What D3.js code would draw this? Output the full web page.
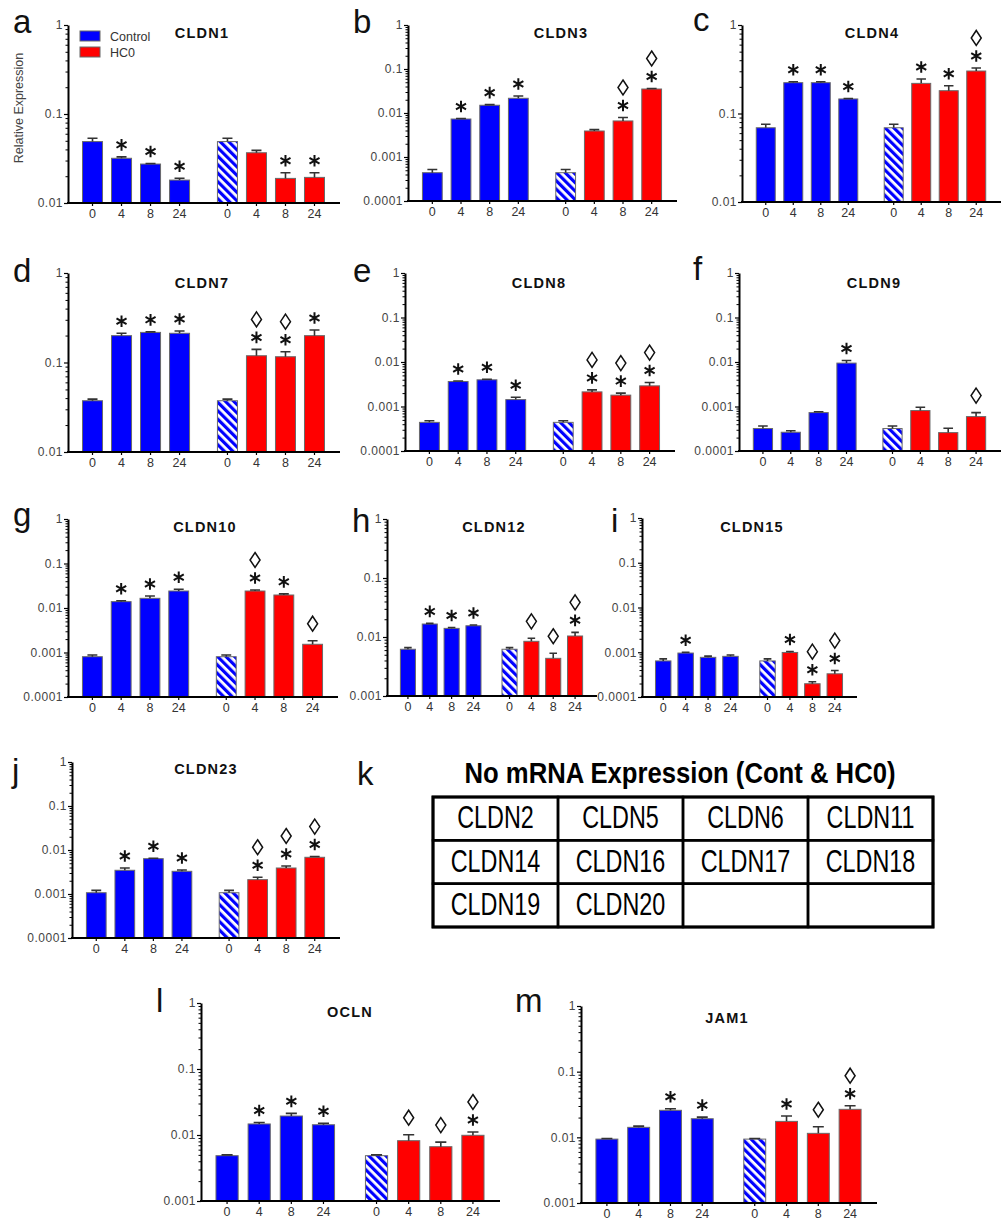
<!DOCTYPE html>
<html><head><meta charset="utf-8">
<script src="https://cdn.jsdelivr.net/npm/d3@7"></script>
<style>
body{margin:0;background:#fff}
svg{display:block}
text{font-family:"Liberation Sans",Arial,Helvetica,sans-serif}
</style>
</head><body>
<svg id="chart" width="1003" height="1226"></svg>
<script>
// ---------------- DATA ----------------
const timepoints = ["0", "4", "8", "24"];
const groups = ["Control", "HC0"];
const yTickLabels = ["0.0001", "0.001", "0.01", "0.1", "1"];

// order of each array: Control 0,4,8,24 then HC0 0,4,8,24
const cldn1Mean  = [0.049, 0.0318, 0.0274, 0.0181, 0.049, 0.0367, 0.0189, 0.0194];
const cldn1Sem   = [0.0043, 0.0012, 0.0004, 0.0009, 0.0043, 0.0023, 0.003, 0.0025];
const cldn1Sig   = ["", "*", "*", "*", "", "", "*", "*"];

const cldn3Mean  = [4.4e-4, 7.3e-3, 0.015, 0.0216, 4.4e-4, 3.9e-3, 6.6e-3, 0.0351];
const cldn3Sem   = [0.8e-4, 0.2e-3, 0.5e-3, 2.7e-3, 0.8e-4, 0.3e-3, 1.3e-3, 0.9e-3];
const cldn3Sig   = ["", "*", "*", "*", "", "", "*◊", "*◊"];

const cldn4Mean  = [0.069, 0.223, 0.223, 0.146, 0.069, 0.219, 0.181, 0.302];
const cldn4Sem   = [0.0065, 0.005, 0.005, 0.002, 0.0065, 0.026, 0.025, 0.025];
const cldn4Sig   = ["", "*", "*", "*", "", "*", "*", "*◊"];

const cldn7Mean  = [0.0374, 0.1995, 0.217, 0.212, 0.0374, 0.119, 0.116, 0.1995];
const cldn7Sem   = [0.0016, 0.0125, 0.003, 0.013, 0.0016, 0.021, 0.016, 0.0315];
const cldn7Sig   = ["", "*", "*", "*", "", "*◊", "*◊", "*"];

const cldn8Mean  = [4.4e-4, 3.64e-3, 3.98e-3, 1.43e-3, 4.4e-4, 2.13e-3, 1.8e-3, 2.91e-3];
const cldn8Sem   = [0.4e-4, 0.11e-3, 0.12e-3, 0.19e-3, 0.4e-4, 0.23e-3, 0.2e-3, 0.54e-3];
const cldn8Sig   = ["", "*", "*", "*", "", "*◊", "*◊", "*◊"];

const cldn9Mean  = [3.2e-4, 2.64e-4, 7.3e-4, 9.45e-3, 3.2e-4, 8.1e-4, 2.59e-4, 5.93e-4];
const cldn9Sem   = [0.45e-4, 0.22e-4, 0.3e-4, 1.35e-3, 0.45e-4, 1.5e-4, 0.66e-4, 1.37e-4];
const cldn9Sig   = ["", "", "", "*", "", "", "", "◊"];

const cldn10Mean = [8.05e-4, 0.0139, 0.0165, 0.0241, 8.05e-4, 0.0241, 0.0196, 1.53e-3];
const cldn10Sem  = [0.75e-4, 0.6e-3, 2.1e-3, 2.3e-3, 0.75e-4, 1.3e-3, 1.2e-3, 0.31e-3];
const cldn10Sig  = ["", "*", "*", "*", "", "*◊", "*", "◊"];

const cldn12Mean = [6.2e-3, 0.0166, 0.014, 0.0155, 6.2e-3, 8.45e-3, 4.35e-3, 0.0104];
const cldn12Sem  = [0.4e-3, 0.4e-3, 0.5e-3, 0.5e-3, 0.4e-3, 1.05e-3, 0.95e-3, 1.6e-3];
const cldn12Sig  = ["", "*", "*", "*", "", "◊", "◊", "*◊"];

const cldn15Mean = [6.4e-4, 9.6e-4, 7.7e-4, 8.1e-4, 6.4e-4, 9.9e-4, 1.98e-4, 3.3e-4];
const cldn15Sem  = [0.7e-4, 0.4e-4, 0.5e-4, 0.6e-4, 0.7e-4, 0.5e-4, 0.22e-4, 0.6e-4];
const cldn15Sig  = ["", "*", "", "", "", "*", "*◊", "*◊"];

const cldn23Mean = [1.07e-3, 3.46e-3, 6.35e-3, 3.28e-3, 1.07e-3, 2.12e-3, 3.9e-3, 6.83e-3];
const cldn23Sem  = [0.14e-3, 0.44e-3, 0.15e-3, 0.22e-3, 0.14e-3, 0.28e-3, 0.43e-3, 0.27e-3];
const cldn23Sig  = ["", "*", "*", "*", "", "*◊", "*◊", "*◊"];

const oclnMean   = [4.86e-3, 0.0147, 0.0194, 0.0143, 4.86e-3, 8.2e-3, 6.65e-3, 9.9e-3];
const oclnSem    = [0.14e-3, 0.8e-3, 1.9e-3, 0.8e-3, 0.14e-3, 1.9e-3, 1.15e-3, 1.2e-3];
const oclnSig    = ["", "*", "*", "*", "", "◊", "◊", "*◊"];

const jam1Mean   = [9.4e-3, 0.0142, 0.0258, 0.0192, 9.4e-3, 0.0175, 0.0115, 0.0267];
const jam1Sem    = [0.2e-3, 0.6e-3, 1.5e-3, 1.1e-3, 0.2e-3, 3.6e-3, 3.0e-3, 3.6e-3];
const jam1Sig    = ["", "", "*", "*", "", "*", "◊", "*◊"];

const noExpressionGenes = ["CLDN2", "CLDN5", "CLDN6", "CLDN11", "CLDN14", "CLDN16", "CLDN17", "CLDN18", "CLDN19", "CLDN20"];

// ---------------- LAYOUT ----------------
const panels = [
  {id:"a", gene:"CLDN1",  mean:cldn1Mean,  sem:cldn1Sem,  sig:cldn1Sig,  min:1e-2, x0:68,  x1:340,  top:25,   bottom:203,  lx:13,  ly:33,   tx:202, ty:38},
  {id:"b", gene:"CLDN3",  mean:cldn3Mean,  sem:cldn3Sem,  sig:cldn3Sig,  min:1e-4, x0:408, x1:677,  top:25,   bottom:201,  lx:353, ly:33,   tx:561, ty:38},
  {id:"c", gene:"CLDN4",  mean:cldn4Mean,  sem:cldn4Sem,  sig:cldn4Sig,  min:1e-2, x0:742, x1:1001, top:25,   bottom:202,  lx:693, ly:31,   tx:872, ty:38},
  {id:"d", gene:"CLDN7",  mean:cldn7Mean,  sem:cldn7Sem,  sig:cldn7Sig,  min:1e-2, x0:68,  x1:340,  top:273,  bottom:452,  lx:13,  ly:282,  tx:202, ty:288},
  {id:"e", gene:"CLDN8",  mean:cldn8Mean,  sem:cldn8Sem,  sig:cldn8Sig,  min:1e-4, x0:405, x1:675,  top:273,  bottom:451,  lx:353, ly:282,  tx:539, ty:288},
  {id:"f", gene:"CLDN9",  mean:cldn9Mean,  sem:cldn9Sem,  sig:cldn9Sig,  min:1e-4, x0:739, x1:1001, top:273,  bottom:451,  lx:693, ly:280,  tx:874, ty:288},
  {id:"g", gene:"CLDN10", mean:cldn10Mean, sem:cldn10Sem, sig:cldn10Sig, min:1e-4, x0:68,  x1:338,  top:519,  bottom:697,  lx:13,  ly:526,  tx:205, ty:532},
  {id:"h", gene:"CLDN12", mean:cldn12Mean, sem:cldn12Sem, sig:cldn12Sig, min:1e-3, x0:387, x1:597,  top:519,  bottom:696,  lx:352, ly:532,  tx:494, ty:532},
  {id:"i", gene:"CLDN15", mean:cldn15Mean, sem:cldn15Sem, sig:cldn15Sig, min:1e-4, x0:642, x1:857,  top:518,  bottom:697,  lx:611, ly:532,  tx:752, ty:532},
  {id:"j", gene:"CLDN23", mean:cldn23Mean, sem:cldn23Sem, sig:cldn23Sig, min:1e-4, x0:72,  x1:340,  top:762,  bottom:938,  lx:12,  ly:782,  tx:206, ty:774},
  {id:"l", gene:"OCLN",   mean:oclnMean,   sem:oclnSem,   sig:oclnSig,   min:1e-3, x0:201, x1:500,  top:1003, bottom:1201, lx:156, ly:1012, tx:350, ty:1017},
  {id:"m", gene:"JAM1",   mean:jam1Mean,   sem:jam1Sem,   sig:jam1Sig,   min:1e-3, x0:581, x1:877,  top:1006, bottom:1203, lx:515, ly:1012, tx:727, ty:1023}
];

const BLUE = "#0000ff", RED = "#ff0000";

const svg = d3.select("#chart");
const defs = svg.append("defs");
const pat = defs.append("pattern").attr("id", "hatch")
  .attr("patternUnits", "userSpaceOnUse").attr("width", 6).attr("height", 6)
  .attr("patternTransform", "rotate(-45)");
pat.append("rect").attr("width", 6).attr("height", 6).attr("fill", "#fff");
pat.append("rect").attr("width", 3.2).attr("height", 6).attr("fill", BLUE);

function starPath(cx, cy, r) {
  const s = Math.sin(Math.PI / 3) * r, c = Math.cos(Math.PI / 3) * r;
  return `M${cx},${cy - r}L${cx},${cy + r}M${cx - s},${cy - c}L${cx + s},${cy + c}M${cx - s},${cy + c}L${cx + s},${cy - c}`;
}
function diamondPath(cx, cy) {
  return `M${cx},${cy - 7.5}L${cx + 5},${cy}L${cx},${cy + 7.5}L${cx - 5},${cy}Z`;
}

function drawPanel(p) {
  const g = svg.append("g").attr("class", "panel-" + p.id);
  const y = d3.scaleLog().domain([p.min, 1]).range([p.bottom, p.top]);
  const outer = d3.scaleBand().domain(groups).range([p.x0 + 10, p.x1 - 11]).paddingInner(0.14);
  const inner = d3.scaleBand().domain(timepoints).range([0, outer.bandwidth()])
    .paddingInner(0.31).paddingOuter(0.155);

  const bars = p.mean.map((v, i) => ({
    group: groups[Math.floor(i / 4)], time: timepoints[i % 4], v, e: p.sem[i], sig: p.sig[i]
  }));
  const xl = d => outer(d.group) + inner(d.time);
  const xc = d => xl(d) + inner.bandwidth() / 2;

  g.selectAll("rect.bar").data(bars).join("rect").attr("class", "bar")
    .attr("x", xl).attr("width", inner.bandwidth())
    .attr("y", d => y(d.v)).attr("height", d => p.bottom - y(d.v))
    .attr("fill", d => d.group === "Control" ? BLUE : (d.time === "0" ? "url(#hatch)" : RED))
    .attr("stroke", "#6a6a6a").attr("stroke-width", 1);

  // error bars
  const cap = inner.bandwidth() * 0.25;
  g.selectAll("path.err").data(bars).join("path").attr("class", "err")
    .attr("d", d => `M${xc(d)},${y(d.v)}V${y(d.v + d.e)}M${xc(d) - cap},${y(d.v + d.e)}H${xc(d) + cap}`)
    .attr("stroke", "#333").attr("stroke-width", 1.6).attr("fill", "none");

  // significance marks
  bars.forEach(d => {
    const top = y(d.v + d.e);
    let ay = top - 12;
    if (d.sig.includes("*")) {
      g.append("path").attr("d", starPath(xc(d), ay, 5.8))
        .attr("stroke", "#111").attr("stroke-width", 2).attr("fill", "none");
    }
    if (d.sig.includes("◊")) {
      const dy = d.sig.includes("*") ? ay - 18 : top - 17;
      g.append("path").attr("d", diamondPath(xc(d), dy))
        .attr("stroke", "#111").attr("stroke-width", 1.5).attr("fill", "none");
    }
  });

  // y axis: minor then major
  const decades = d3.range(Math.round(Math.log10(p.min)), 1).map(k => Math.pow(10, k));
  const minors = [];
  decades.slice(0, -1).forEach(dv => { for (let k = 2; k <= 9; k++) minors.push(dv * k); });
  g.append("g").attr("transform", `translate(${p.x0},0)`)
    .call(d3.axisLeft(y).tickValues(minors).tickFormat("").tickSize(2.5).tickSizeOuter(0))
    .call(a => a.select(".domain").remove())
    .call(a => a.selectAll("line").attr("stroke", "#000").attr("stroke-width", 1));
  const yAx = g.append("g").attr("transform", `translate(${p.x0},0)`)
    .call(d3.axisLeft(y).tickValues(decades)
      .tickFormat(d => yTickLabels[Math.round(Math.log10(d)) + 4])
      .tickSize(4).tickPadding(1).tickSizeOuter(0));
  yAx.select(".domain").attr("stroke", "#000").attr("stroke-width", 2);
  yAx.selectAll("line").attr("stroke", "#000").attr("stroke-width", 1.2);
  yAx.selectAll("text").attr("font-size", 12).attr("fill", "#444")
    .attr("letter-spacing", 0.5).attr("font-family", '"Liberation Sans",Arial,sans-serif');

  // x axis
  groups.forEach(gr => {
    const xa = g.append("g").attr("transform", `translate(${outer(gr)},${p.bottom})`)
      .call(d3.axisBottom(inner).tickSize(3).tickPadding(3));
    xa.select(".domain").remove();
    xa.selectAll("line").attr("stroke", "#000").attr("stroke-width", 1.2);
    xa.selectAll("text").attr("font-size", 12.5).attr("fill", "#333")
      .attr("font-family", '"Liberation Sans",Arial,sans-serif');
  });
  g.append("line").attr("x1", p.x0 - 1).attr("x2", p.x1).attr("y1", p.bottom).attr("y2", p.bottom)
    .attr("stroke", "#000").attr("stroke-width", 2);

  // title and panel letter
  g.append("text").attr("x", p.tx).attr("y", p.ty).attr("text-anchor", "middle")
    .attr("font-size", 14.5).attr("font-weight", "bold").attr("letter-spacing", 1.2)
    .attr("fill", "#111").text(p.gene);
  g.append("text").attr("x", p.lx).attr("y", p.ly).attr("font-size", 33)
    .attr("fill", "#111").text(p.id);
}

panels.forEach(drawPanel);

// legend + y label (panel a)
const legendItems = [{name: groups[0], color: BLUE}, {name: groups[1], color: RED}];
const lg = svg.append("g");
legendItems.forEach((it, i) => {
  lg.append("rect").attr("x", 80).attr("y", 31 + i * 16).attr("width", 20).attr("height", 10)
    .attr("fill", it.color).attr("stroke", "#666").attr("stroke-width", 1);
  lg.append("text").attr("x", 110).attr("y", 41 + i * 16).attr("font-size", 12.5)
    .attr("fill", "#333").text(it.name);
});
svg.append("text").attr("transform", "translate(23,108) rotate(-90)").attr("text-anchor", "middle")
  .attr("font-size", 12.5).attr("fill", "#444").text("Relative Expression");

// panel k table
svg.append("text").attr("x", 357).attr("y", 785).attr("font-size", 33).attr("fill", "#111").text("k");
svg.append("text").attr("x", 680).attr("y", 783).attr("text-anchor", "middle")
  .attr("font-size", 29).attr("font-weight", "bold").attr("fill", "#000")
  .attr("textLength", 431).attr("lengthAdjust", "spacingAndGlyphs")
  .text("No mRNA Expression (Cont & HC0)");
const cols = d3.scaleBand().domain(d3.range(4)).range([433, 933]);
const rows = d3.scaleBand().domain(d3.range(3)).range([797, 927]);
const tbl = svg.append("g");
d3.range(12).forEach(i => {
  const c = i % 4, r = Math.floor(i / 4);
  tbl.append("rect").attr("x", cols(c)).attr("y", rows(r))
    .attr("width", cols.bandwidth()).attr("height", rows.bandwidth())
    .attr("fill", "none").attr("stroke", "#000").attr("stroke-width", 2.5);
  if (noExpressionGenes[i]) {
    tbl.append("text")
      .attr("transform", `translate(${cols(c) + cols.bandwidth() / 2},${rows(r) + rows.bandwidth() - 12}) scale(0.73,1)`)
      .attr("text-anchor", "middle").attr("font-size", 32).attr("fill", "#000")
      .text(noExpressionGenes[i]);
  }
});
tbl.append("rect").attr("x", 433).attr("y", 797).attr("width", 500).attr("height", 130)
  .attr("fill", "none").attr("stroke", "#000").attr("stroke-width", 3);
</script>
</body></html>
